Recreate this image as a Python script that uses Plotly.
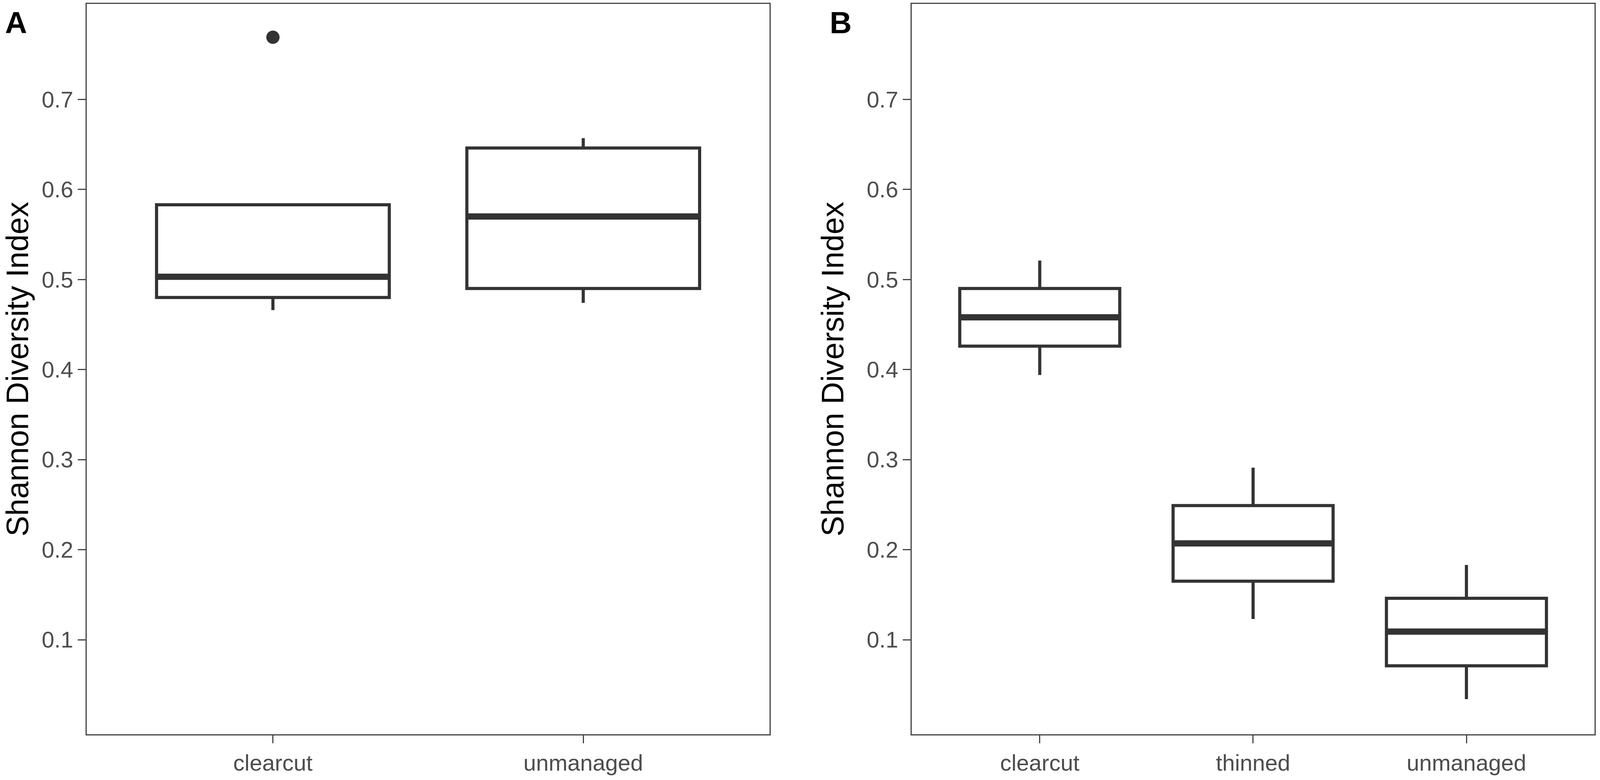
import plotly.graph_objects as go

W, H = 4317, 1996  # reference canvas, used to convert pixel positions to paper fractions

# ---- data ----
cats_a = ["clearcut", "unmanaged"]
low_a = [0.466, 0.474]
q1_a = [0.480, 0.490]
med_a = [0.503, 0.570]
q3_a = [0.583, 0.646]
high_a = [0.583, 0.657]
outlier_a_cat = ["clearcut"]
outlier_a_val = [0.769]

cats_b = ["clearcut", "thinned", "unmanaged"]
low_b = [0.394, 0.123, 0.034]
q1_b = [0.426, 0.165, 0.071]
med_b = [0.458, 0.207, 0.109]
q3_b = [0.490, 0.249, 0.146]
high_b = [0.521, 0.291, 0.183]

y_ticks = [0.1, 0.2, 0.3, 0.4, 0.5, 0.6, 0.7]
panel_labels = ["A", "B"]
y_title = "Shannon Diversity Index"

# ---- style ----
LINE = "#333333"
FRAME = "#444444"
BOX_W = 0.75
BOX_LW = 8
MED_LW = 16
FONT = "Liberation Sans, Arial, sans-serif"

fig = go.Figure()


def add_panel(cats, low, q1, med, q3, high, xa, ya):
    xs = list(range(len(cats)))
    for i, c in enumerate(cats):
        fig.add_trace(go.Box(
            x=[xs[i]], q1=[q1[i]], median=[med[i]], q3=[q3[i]],
            lowerfence=[low[i]], upperfence=[high[i]],
            width=BOX_W, whiskerwidth=0,
            fillcolor="white", line=dict(color=LINE, width=BOX_LW),
            boxpoints=False, showlegend=False, hoverinfo="skip",
            xaxis=xa, yaxis=ya,
        ))
        # thick median bar (ggplot fatten = 2)
        fig.add_trace(go.Scatter(
            x=[xs[i] - BOX_W / 2, xs[i] + BOX_W / 2], y=[med[i], med[i]],
            mode="lines", line=dict(color=LINE, width=MED_LW),
            showlegend=False, hoverinfo="skip", xaxis=xa, yaxis=ya,
        ))


add_panel(cats_a, low_a, q1_a, med_a, q3_a, high_a, "x", "y")
add_panel(cats_b, low_b, q1_b, med_b, q3_b, high_b, "x2", "y2")

fig.add_trace(go.Scatter(
    x=[cats_a.index(c) for c in outlier_a_cat], y=outlier_a_val,
    mode="markers", marker=dict(color=LINE, size=34),
    showlegend=False, hoverinfo="skip", xaxis="x", yaxis="y",
))

dom_a = [234 / W, 2076 / W]
dom_b = [2460 / W, 4302 / W]
dom_y = [1 - 1879 / H, 1 - 10 / H]
yr = [-0.005, 0.806]

common_axis = dict(
    showline=True, mirror=True, linecolor=FRAME, linewidth=3,
    showgrid=False, zeroline=False,
    ticks="outside", ticklen=20, tickwidth=3, tickcolor=FRAME,
    tickfont=dict(family=FONT, size=58, color="#4D4D4D"),
)

title_font = dict(family=FONT, size=79, color="black")

fig.update_layout(
    autosize=True,
    margin=dict(l=0, r=0, t=0, b=0),
    paper_bgcolor="white", plot_bgcolor="white",
    xaxis=dict(domain=dom_a, range=[-0.6, len(cats_a) - 0.4],
               tickvals=list(range(len(cats_a))), ticktext=cats_a,
               anchor="y", **common_axis),
    yaxis=dict(domain=dom_y, range=yr, tickvals=y_ticks,
               ticktext=[f"{v:.1f}" for v in y_ticks], anchor="x",
               title=dict(text=y_title, standoff=34, font=title_font),
               **common_axis),
    xaxis2=dict(domain=dom_b, range=[-0.6, len(cats_b) - 0.4],
                tickvals=list(range(len(cats_b))), ticktext=cats_b,
                anchor="y2", **common_axis),
    yaxis2=dict(domain=dom_y, range=yr, tickvals=y_ticks,
                ticktext=[f"{v:.1f}" for v in y_ticks], anchor="x2",
                title=dict(text=y_title, standoff=34, font=title_font),
                **common_axis),
    annotations=[
        dict(text=f"<b>{panel_labels[0]}</b>", x=12 / W, y=1 - 12 / H,
             xref="paper", yref="paper", xanchor="left", yanchor="top",
             showarrow=False, font=dict(family=FONT, size=78, color="black")),
        dict(text=f"<b>{panel_labels[1]}</b>", x=2236 / W, y=1 - 12 / H,
             xref="paper", yref="paper", xanchor="left", yanchor="top",
             showarrow=False, font=dict(family=FONT, size=78, color="black")),
    ],
)

post = (
    "document.documentElement.style.margin='0';"
    "document.body.style.margin='0';"
    "document.body.style.overflow='hidden';"
    "var gd=document.getElementById('{plot_id}');"
    "Plotly.Plots.resize(gd);"
)

fig.write_html("out.html", default_width="100vw", default_height="100vh",
               config={"responsive": True, "displayModeBar": False},
               post_script=post)
